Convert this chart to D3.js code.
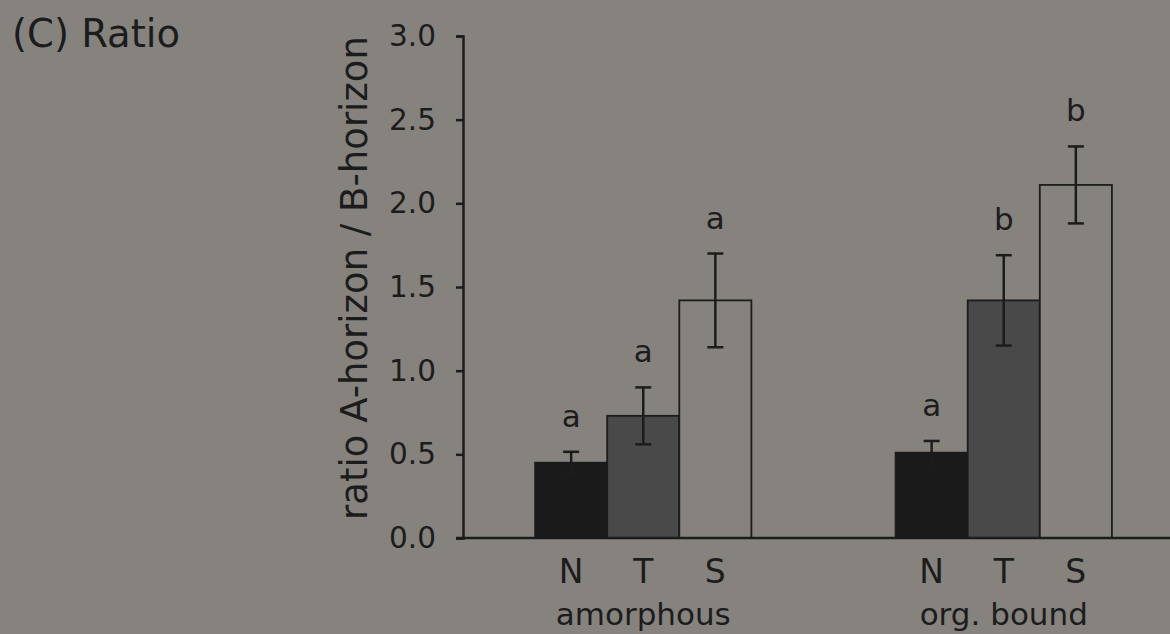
<!DOCTYPE html>
<html>
<head>
<meta charset="utf-8">
<script src="https://cdn.jsdelivr.net/npm/d3@7"></script>
<style>
  html, body { margin: 0; padding: 0; background: #86837e; }
  svg { display: block; font-family: "DejaVu Sans", sans-serif; }
</style>
</head>
<body>
<svg id="chart"></svg>
<script>
// chart values
const groups = ['amorphous', 'org. bound'];
const treatments = ['N', 'T', 'S'];
const means = [[0.45, 0.73, 1.42], [0.51, 1.42, 2.11]];
const errors = [[0.065, 0.17, 0.28], [0.07, 0.27, 0.23]];
const letters = [['a', 'a', 'a'], ['a', 'b', 'b']];
const yTicks = [0, 0.5, 1.0, 1.5, 2.0, 2.5, 3.0];

const width = 1170, height = 634;
const ink = '#1c1c1c';
const fills = { N: '#1a1a1a', T: '#494949', S: '#86837e' };

const svg = d3.select('#chart').attr('width', width).attr('height', height);

// scales
const y = d3.scaleLinear().domain([0, 3]).range([538, 36]);
const x0 = d3.scaleBand().domain(groups).range([463, 1184]).paddingInner(0.4).paddingOuter(0.2);
const x1 = d3.scaleBand().domain(treatments).range([0, x0.bandwidth()]);

// flatten into rows for binding
const rows = [];
groups.forEach((g, gi) => treatments.forEach((t, ti) => {
    rows.push({ group: g, trt: t, mean: means[gi][ti], err: errors[gi][ti], letter: letters[gi][ti] });
}));

// bars
svg.append('g').selectAll('rect')
    .data(rows)
    .join('rect')
    .attr('x', d => x0(d.group) + x1(d.trt))
    .attr('y', d => y(d.mean))
    .attr('width', x1.bandwidth())
    .attr('height', d => y(0) - y(d.mean))
    .attr('fill', d => fills[d.trt])
    .attr('stroke', ink)
    .attr('stroke-width', 1.8);

// error bars
const eb = svg.append('g').attr('stroke', ink).attr('stroke-width', 2.5);
rows.forEach(d => {
    const cx = x0(d.group) + x1(d.trt) + x1.bandwidth() / 2;
    eb.append('line').attr('x1', cx).attr('x2', cx).attr('y1', y(d.mean - d.err)).attr('y2', y(d.mean + d.err));
    eb.append('line').attr('x1', cx - 8).attr('x2', cx + 8).attr('y1', y(d.mean + d.err)).attr('y2', y(d.mean + d.err));
    eb.append('line').attr('x1', cx - 8).attr('x2', cx + 8).attr('y1', y(d.mean - d.err)).attr('y2', y(d.mean - d.err));
});

// significance letters
svg.append('g').selectAll('text')
    .data(rows)
    .join('text')
    .attr('x', d => x0(d.group) + x1(d.trt) + x1.bandwidth() / 2)
    .attr('y', d => y(d.mean + d.err) - 25)
    .attr('text-anchor', 'middle')
    .attr('font-size', 31)
    .attr('fill', ink)
    .text(d => d.letter);

// y axis
const yAxis = svg.append('g')
    .attr('transform', 'translate(463,0)')
    .call(d3.axisLeft(y).tickValues(yTicks).tickFormat(d3.format('.1f')).tickSize(7).tickSizeOuter(7).tickPadding(20));
yAxis.select('.domain').attr('stroke', ink).attr('stroke-width', 2.5);
yAxis.selectAll('.tick line').attr('stroke', ink).attr('stroke-width', 2.5);
yAxis.selectAll('.tick text').attr('font-size', 29.5).attr('fill', ink).attr('font-family', '"DejaVu Sans", sans-serif');

// x axis baseline
svg.append('line')
    .attr('x1', 456).attr('x2', width)
    .attr('y1', y(0)).attr('y2', y(0))
    .attr('stroke', ink).attr('stroke-width', 2.5);

// treatment labels
svg.append('g').selectAll('text')
    .data(rows)
    .join('text')
    .attr('x', d => x0(d.group) + x1(d.trt) + x1.bandwidth() / 2)
    .attr('y', 583)
    .attr('text-anchor', 'middle')
    .attr('font-size', 33)
    .attr('fill', ink)
    .text(d => d.trt);

// group labels
svg.append('g').selectAll('text')
    .data(groups)
    .join('text')
    .attr('x', d => x0(d) + x0.bandwidth() / 2)
    .attr('y', 625)
    .attr('text-anchor', 'middle')
    .attr('font-size', 31)
    .attr('fill', ink)
    .text(d => d);

// y axis title
svg.append('text')
    .attr('transform', 'translate(367,278) rotate(-90)')
    .attr('text-anchor', 'middle')
    .attr('font-size', 37)
    .attr('fill', ink)
    .text('ratio A-horizon / B-horizon');

// panel title
svg.append('text')
    .attr('x', 12)
    .attr('y', 47)
    .attr('font-size', 38.5)
    .attr('fill', ink)
    .text('(C) Ratio');
</script>
</body>
</html>
